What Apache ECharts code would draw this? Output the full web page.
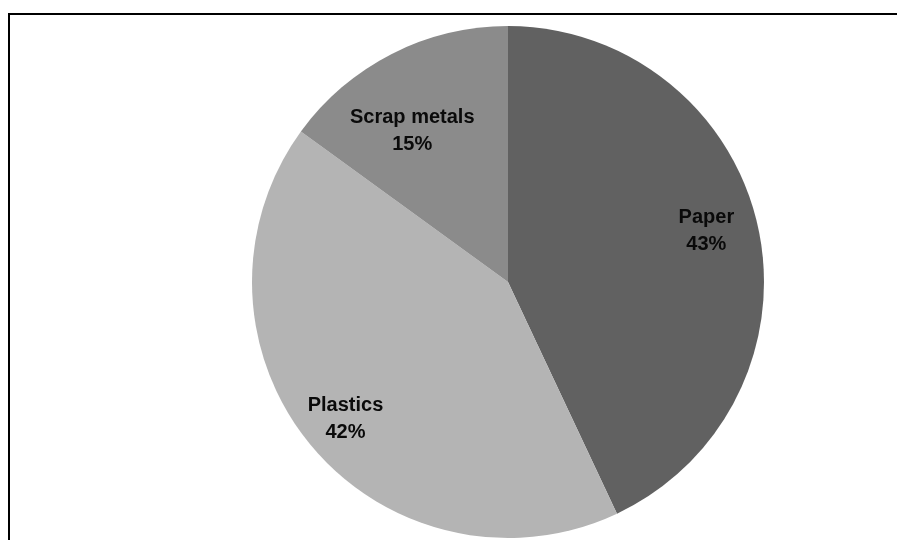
<!DOCTYPE html>
<html>
<head>
<meta charset="utf-8">
<script src="https://cdn.jsdelivr.net/npm/echarts@6/dist/echarts.min.js"></script>
<style>
  html, body { margin: 0; padding: 0; background: #fff; }
  #chart { width: 897px; height: 540px; }
</style>
</head>
<body>
<div id="chart"></div>
<script>
// Recycled material shares
const categories = ['Paper', 'Plastics', 'Scrap metals'];
const shares = [43, 42, 15];

// Slice fills, label distance (fraction of radius) and angular nudge (degrees, counter-clockwise)
const sliceColors = ['#616161', '#b4b4b4', '#8b8b8b'];
const labelRadiusFactor = [0.80, 0.83, 0.70];
const labelAngleNudge = [1.8, 0.5, 5.3];

const CENTER = [508, 282];
const RADIUS = 256;

const chart = echarts.init(document.getElementById('chart'), null, { renderer: 'canvas' });

chart.setOption({
  animation: false,
  backgroundColor: '#ffffff',
  graphic: [{
    type: 'rect',
    shape: { x: 9, y: 14, width: 900, height: 540 },
    style: { fill: 'none', stroke: '#000000', lineWidth: 2 },
    z: 10
  }],
  series: [{
    type: 'pie',
    center: CENTER,
    radius: [0, RADIUS],
    startAngle: 90,
    clockwise: true,
    avoidLabelOverlap: false,
    data: categories.map((name, i) => ({
      name,
      value: shares[i],
      itemStyle: { color: sliceColors[i] }
    })),
    itemStyle: { borderWidth: 0 },
    label: {
      show: true,
      position: 'inside',
      formatter: '{b}\n{d}%',
      fontFamily: 'Liberation Sans, Arial, sans-serif',
      fontWeight: 'bold',
      fontSize: 20,
      lineHeight: 27,
      color: '#0a0a0a',
      align: 'center'
    },
    labelLine: { show: false },
    // move each label outward from the slice bisector, with a small angular nudge
    labelLayout: function (p) {
      const r = p.labelRect;
      const cx = r.x + r.width / 2;
      const cy = r.y + r.height / 2;
      const ang = Math.atan2(CENTER[1] - cy, cx - CENTER[0]) + labelAngleNudge[p.dataIndex] * Math.PI / 180;
      const dist = RADIUS * labelRadiusFactor[p.dataIndex];
      const tx = CENTER[0] + dist * Math.cos(ang);
      const ty = CENTER[1] - dist * Math.sin(ang);
      return { dx: tx - cx, dy: ty - cy };
    },
    emphasis: { disabled: true }
  }]
});
</script>
</body>
</html>
